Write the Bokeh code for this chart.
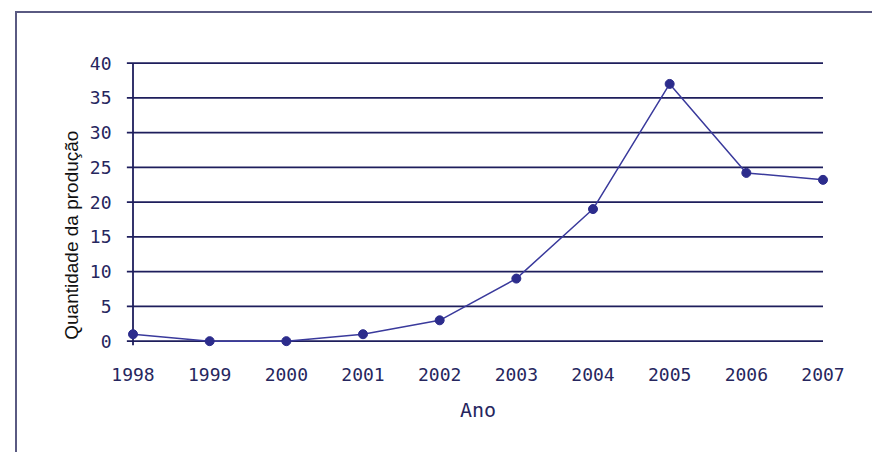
from bokeh.plotting import figure
from bokeh.models import FixedTicker, ColumnDataSource
from bokeh.embed import file_html
from bokeh.resources import INLINE

years = [1998, 1999, 2000, 2001, 2002, 2003, 2004, 2005, 2006, 2007]
producao = [1, 0, 0, 1, 3, 9, 19, 37, 24.2, 23.2]
y_ticks = [0, 5, 10, 15, 20, 25, 30, 35, 40]
x_title = "Ano"
y_title = "Quantidade da produção"

navy = "#1e1e5c"
label_col = "#26265e"

p = figure(width=857, height=441, output_backend="svg", toolbar_location=None,
           x_range=(1997.85, 2007.15), y_range=(-1.2, 40.8),
           min_border_left=104, min_border_right=40, min_border_top=44, min_border_bottom=105)
p.margin = (11, 0, 0, 15)
p.styles = {"border-left": "2px solid #5a5a82", "border-top": "2px solid #5a5a82"}
p.outline_line_color = None
p.xgrid.visible = False
p.ygrid.visible = False

gx0 = [years[0] - 0.08] * len(y_ticks)
gx1 = [years[-1]] * len(y_ticks)
p.segment(x0=gx0, y0=y_ticks, x1=gx1, y1=y_ticks, line_color=navy, line_width=1.8)
p.segment(x0=[years[0]], y0=[-0.6], x1=[years[0]], y1=[y_ticks[-1]], line_color=navy, line_width=1.8)

src = ColumnDataSource(dict(x=years, y=producao))
p.line("x", "y", source=src, line_color="#3a3a9c", line_width=1.5)
p.scatter("x", "y", source=src, size=9, fill_color="#2c2c8c", line_color="#2c2c8c")

p.xaxis.ticker = FixedTicker(ticks=years)
p.xaxis.axis_line_color = None
p.xaxis.major_tick_line_color = None
p.xaxis.minor_tick_line_color = None
p.xaxis.major_label_standoff = 12
p.xaxis.major_label_text_font = "DejaVu Sans Mono"
p.xaxis.major_label_text_font_size = "18px"
p.xaxis.major_label_text_color = label_col
p.xaxis.axis_label = x_title
p.xaxis.axis_label_standoff = 14
p.xaxis.axis_label_text_font = "DejaVu Sans Mono"
p.xaxis.axis_label_text_font_size = "20px"
p.xaxis.axis_label_text_font_style = "normal"
p.xaxis.axis_label_text_color = label_col

p.yaxis.ticker = FixedTicker(ticks=y_ticks)
p.yaxis.axis_line_color = None
p.yaxis.major_tick_line_color = None
p.yaxis.minor_tick_line_color = None
p.yaxis.major_label_standoff = 4
p.yaxis.major_label_text_font = "DejaVu Sans Mono"
p.yaxis.major_label_text_font_size = "18px"
p.yaxis.major_label_text_color = label_col
# trailing no-break spaces move the centred title down along the axis
p.yaxis.axis_label = y_title + "\u00a0" * 12
p.yaxis.axis_label_standoff = 5
p.yaxis.axis_label_text_font = "Liberation Sans"
p.yaxis.axis_label_text_font_size = "19px"
p.yaxis.axis_label_text_font_style = "normal"
p.yaxis.axis_label_text_color = "#111111"

open("out.html", "w").write(file_html(p, INLINE))
